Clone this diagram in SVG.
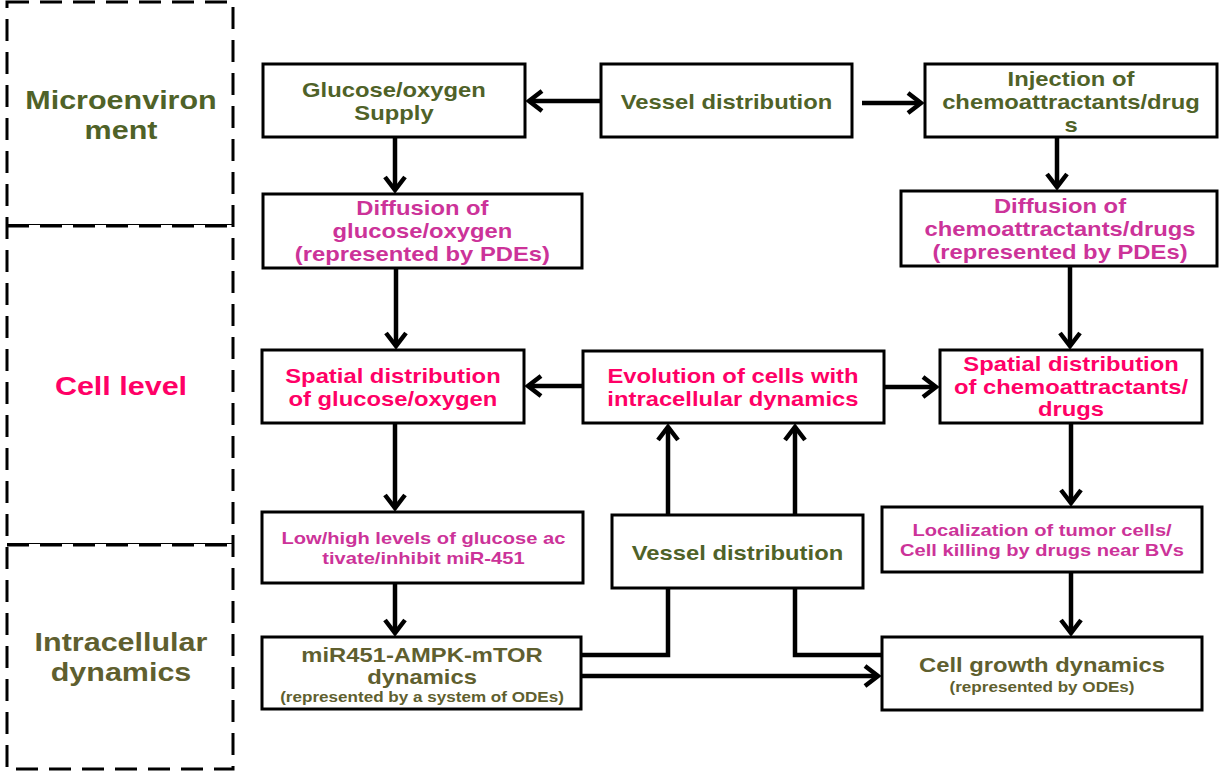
<svg xmlns="http://www.w3.org/2000/svg" width="1231" height="772" viewBox="0 0 1231 772">
<defs>
<style>
.box{fill:#fff;stroke:#000;stroke-width:3}
.t{font-family:"Liberation Sans",Arial,sans-serif;font-weight:bold;text-anchor:middle}
.g{fill:#4F6228}
.p{fill:#FF0066}
.m{fill:#CC3399}
.o{fill:#5F5F2F}
.f19{font-size:19.5px}
.f24{font-size:25px}
.f16{font-size:16.5px}
.f14{font-size:14px}
.c{fill:none;stroke:#000;stroke-width:4.5}
.dash{fill:none;stroke:#000;stroke-width:3;stroke-dasharray:22 11}
</style>
<marker id="ah" markerUnits="userSpaceOnUse" markerWidth="40" markerHeight="40" refX="0" refY="0" orient="auto" viewBox="-20 -20 40 40" overflow="visible">
<path d="M-13,-10 L0,0 L-13,10" fill="none" stroke="#000" stroke-width="4.5"/>
</marker>
</defs>
<rect width="1231" height="772" fill="#fff"/>

<g id="levels">
<rect class="dash" x="7" y="2" width="226" height="767"/>
<line x1="7" y1="224.5" x2="233" y2="224.5" stroke="#000" stroke-width="1"/>
<line class="dash" x1="7" y1="226" x2="233" y2="226"/>
<line x1="7" y1="543.5" x2="233" y2="543.5" stroke="#000" stroke-width="1"/>
<line class="dash" x1="7" y1="545" x2="233" y2="545"/>
<g transform="matrix(1.22 0 0 1 -26.6 0)">
<text class="t f24 g" x="121" y="109">Microenviron</text>
<text class="t f24 g" x="121" y="139">ment</text>
<text class="t f24 p" x="121" y="395">Cell level</text>
<text class="t f24 o" x="121" y="651">Intracellular</text>
<text class="t f24 o" x="121" y="681">dynamics</text>
</g>
</g>

<g id="connectors">
<path class="c" d="M601,101 H529" marker-end="url(#ah)"/>
<path class="c" d="M862,103 H921" marker-end="url(#ah)"/>
<path class="c" d="M395,137 V190" marker-end="url(#ah)"/>
<path class="c" d="M1057,137 V187" marker-end="url(#ah)"/>
<path class="c" d="M396,268 V346" marker-end="url(#ah)"/>
<path class="c" d="M1070,266 V346" marker-end="url(#ah)"/>
<path class="c" d="M583,386 H528" marker-end="url(#ah)"/>
<path class="c" d="M884,387 H936" marker-end="url(#ah)"/>
<path class="c" d="M395,423 V508" marker-end="url(#ah)"/>
<path class="c" d="M1071,423 V503" marker-end="url(#ah)"/>
<path class="c" d="M668,515 V427" marker-end="url(#ah)"/>
<path class="c" d="M795,515 V427" marker-end="url(#ah)"/>
<path class="c" d="M395,583 V633" marker-end="url(#ah)"/>
<path class="c" d="M1071,572 V633" marker-end="url(#ah)"/>
<path class="c" d="M581,655 H668 V588"/>
<path class="c" d="M795,588 V655 H882"/>
<path class="c" d="M581,676 H878" marker-end="url(#ah)"/>
</g>

<g id="glucose-supply">
<rect class="box" x="263" y="64" width="262" height="73"/>
<g transform="matrix(1.22 0 0 1 -86.7 0)">
<text class="t f19 g" x="394" y="97">Glucose/oxygen</text>
<text class="t f19 g" x="394" y="120">Supply</text>
</g>
</g>

<g id="vessel-top">
<rect class="box" x="601" y="64" width="251" height="73"/>
<g transform="matrix(1.22 0 0 1 -159.8 0)">
<text class="t f19 g" x="726.5" y="109">Vessel distribution</text>
</g>
</g>

<g id="injection">
<rect class="box" x="925" y="64" width="292" height="73"/>
<g transform="matrix(1.22 0 0 1 -235.6 0)">
<text class="t f19 g" x="1071" y="86">Injection of</text>
<text class="t f19 g" x="1071" y="109">chemoattractants/drug</text>
<text class="t f19 g" x="1071" y="132">s</text>
</g>
</g>

<g id="diffusion-glucose">
<rect class="box" x="263" y="194" width="319" height="74"/>
<g transform="matrix(1.22 0 0 1 -93 0)">
<text class="t f19 m" x="422.5" y="215">Diffusion of</text>
<text class="t f19 m" x="422.5" y="238">glucose/oxygen</text>
<text class="t f19 m" x="422.5" y="261">(represented by PDEs)</text>
</g>
</g>

<g id="diffusion-chemo">
<rect class="box" x="901" y="191" width="316" height="75"/>
<g transform="matrix(1.22 0 0 1 -233.2 0)">
<text class="t f19 m" x="1060" y="213">Diffusion of</text>
<text class="t f19 m" x="1060" y="236">chemoattractants/drugs</text>
<text class="t f19 m" x="1060" y="259">(represented by PDEs)</text>
</g>
</g>

<g id="spatial-glucose">
<rect class="box" x="262" y="350" width="262" height="73"/>
<g transform="matrix(1.22 0 0 1 -86.5 0)">
<text class="t f19 p" x="393" y="383">Spatial distribution</text>
<text class="t f19 p" x="393" y="406">of glucose/oxygen</text>
</g>
</g>

<g id="evolution">
<rect class="box" x="583" y="351" width="301" height="72"/>
<g transform="matrix(1.22 0 0 1 -161.3 0)">
<text class="t f19 p" x="733" y="383">Evolution of cells with</text>
<text class="t f19 p" x="733" y="406">intracellular dynamics</text>
</g>
</g>

<g id="spatial-chemo">
<rect class="box" x="940" y="350" width="262" height="73"/>
<g transform="matrix(1.22 0 0 1 -235.6 0)">
<text class="t f19 p" x="1071" y="371">Spatial distribution</text>
<text class="t f19 p" x="1071" y="394">of chemoattractants/</text>
<text class="t f19 p" x="1071" y="416">drugs</text>
</g>
</g>

<g id="low-high">
<rect class="box" x="262" y="512" width="321" height="71"/>
<g transform="matrix(1.22 0 0 1 -93.2 0)">
<text class="t f16 m" x="423.5" y="544">Low/high levels of glucose ac</text>
<text class="t f16 m" x="423.5" y="564">tivate/inhibit miR-451</text>
</g>
</g>

<g id="vessel-mid">
<rect class="box" x="612" y="515" width="251" height="73"/>
<g transform="matrix(1.22 0 0 1 -162.3 0)">
<text class="t f19 g" x="737.5" y="560">Vessel distribution</text>
</g>
</g>

<g id="localization">
<rect class="box" x="882" y="507" width="320" height="65"/>
<g transform="matrix(1.22 0 0 1 -229.2 0)">
<text class="t f16 m" x="1042" y="536">Localization of tumor cells/</text>
<text class="t f16 m" x="1042" y="556">Cell killing by drugs near BVs</text>
</g>
</g>

<g id="mir451">
<rect class="box" x="262" y="637" width="319" height="72"/>
<g transform="matrix(1.22 0 0 1 -92.8 0)">
<text class="t f19 o" x="422" y="662">miR451-AMPK-mTOR</text>
<text class="t f19 o" x="422" y="684">dynamics</text>
<text class="t f14 o" x="422" y="702">(represented by a system of ODEs)</text>
</g>
</g>

<g id="cell-growth">
<rect class="box" x="882" y="637" width="320" height="73"/>
<g transform="matrix(1.22 0 0 1 -229.2 0)">
<text class="t f19 o" x="1042" y="672">Cell growth dynamics</text>
<text class="t f14 o" x="1042" y="692">(represented by ODEs)</text>
</g>
</g>
</svg>
